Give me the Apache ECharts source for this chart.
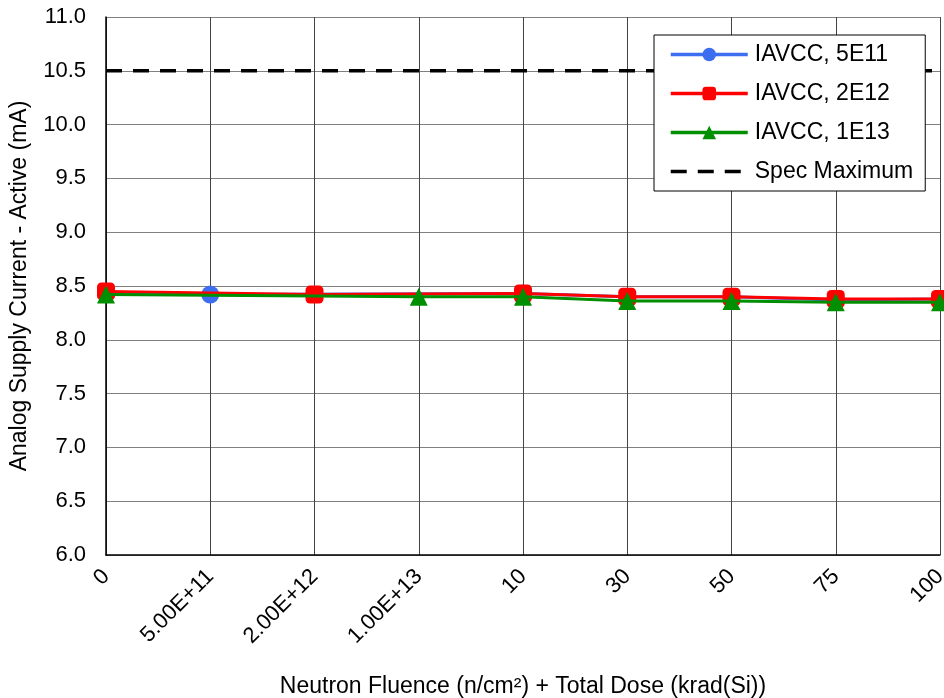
<!DOCTYPE html>
<html><head><meta charset="utf-8">
<script src="https://cdn.jsdelivr.net/npm/echarts@6/dist/echarts.min.js"></script>
<style>html,body{margin:0;padding:0;background:#fff}#c{width:944px;height:698px}</style>
</head><body><div id="c"></div>
<script>
const categories = ['0','5.00E+11','2.00E+12','1.00E+13','10','30','50','75','100'];
const iavcc5E11 = [8.44, 8.42, null, null, 8.43, 8.40, 8.40, 8.37, 8.38];
const iavcc2E12 = [8.45, null, 8.42, null, 8.43, 8.40, 8.40, 8.38, 8.38];
const iavcc1E13 = [8.42, null, null, 8.40, 8.40, 8.36, 8.36, 8.35, 8.35];
const specMax = [10.5, 10.5, 10.5, 10.5, 10.5, 10.5, 10.5, 10.5, 10.5];
const yTicks = {min: 6.0, max: 11.0, interval: 0.5};

const font = 'Liberation Sans, Arial, sans-serif';
const chart = echarts.init(document.getElementById('c'), null, {renderer: 'canvas'});
chart.setOption({
  animation: false,
  backgroundColor: '#fff',
  grid: {left: 106, right: 4, top: 17, bottom: 143, containLabel: false, outerBoundsMode: 'none'},
  xAxis: {
    type: 'category', data: categories, boundaryGap: false,
    name: 'Neutron Fluence (n/cm²) + Total Dose (krad(Si))',
    nameLocation: 'middle', nameGap: 120,
    nameTextStyle: {fontFamily: font, fontSize: 23, color: '#000'},
    axisLine: {show: true, lineStyle: {color: '#000', width: 1.5}},
    axisTick: {show: false},
    axisLabel: {rotate: 45, fontFamily: font, fontSize: 22, color: '#000', margin: 18, interval: 0},
    splitLine: {show: true, lineStyle: {color: '#444', width: 1}}
  },
  yAxis: {
    type: 'value', min: yTicks.min, max: yTicks.max, interval: yTicks.interval,
    name: 'Analog Supply Current - Active (mA)',
    nameLocation: 'middle', nameGap: 75, nameRotate: 90,
    nameTextStyle: {fontFamily: font, fontSize: 23, color: '#000'},
    axisLine: {show: true, lineStyle: {color: '#000', width: 1.5}},
    axisTick: {show: false},
    axisLabel: {fontFamily: font, fontSize: 22, color: '#000', margin: 20, formatter: v => v.toFixed(1)},
    splitLine: {show: true, lineStyle: {color: '#808080', width: 1}}
  },
  legend: {
    orient: 'vertical', left: 654, top: 35, width: 274,
    backgroundColor: '#fff', borderColor: '#000', borderWidth: 1,
    padding: [8, 12, 8, 15], itemGap: 16, itemWidth: 77, itemHeight: 17,
    lineStyle: {width: 3.5},
    textStyle: {fontFamily: font, fontSize: 23, color: '#000', padding: [0, 0, 0, 2]},
    data: [
      {name: 'IAVCC, 5E11'}, {name: 'IAVCC, 2E12'}, {name: 'IAVCC, 1E13'}, {name: 'Spec Maximum'}
    ]
  },
  series: [
    {name: 'Spec Maximum', type: 'line', data: specMax, symbol: 'none', z: 1,
     lineStyle: {color: '#000', width: 3.5, type: [16, 11]}, itemStyle: {color: 'rgba(0,0,0,0)'}},
    {name: 'IAVCC, 5E11', type: 'line', data: iavcc5E11, connectNulls: true, symbol: 'circle', symbolSize: 18,
     lineStyle: {color: '#3d6ef0', width: 3}, itemStyle: {color: '#3d6ef0'}, z: 2},
    {name: 'IAVCC, 2E12', type: 'line', data: iavcc2E12, connectNulls: true, symbol: 'roundRect', symbolSize: 18,
     lineStyle: {color: '#ff0000', width: 3}, itemStyle: {color: '#ff0000'}, z: 3},
    {name: 'IAVCC, 1E13', type: 'line', data: iavcc1E13, connectNulls: true, symbol: 'triangle', symbolSize: 18,
     lineStyle: {color: '#008f00', width: 3}, itemStyle: {color: '#008f00'}, z: 4}
  ]
});
</script></body></html>
